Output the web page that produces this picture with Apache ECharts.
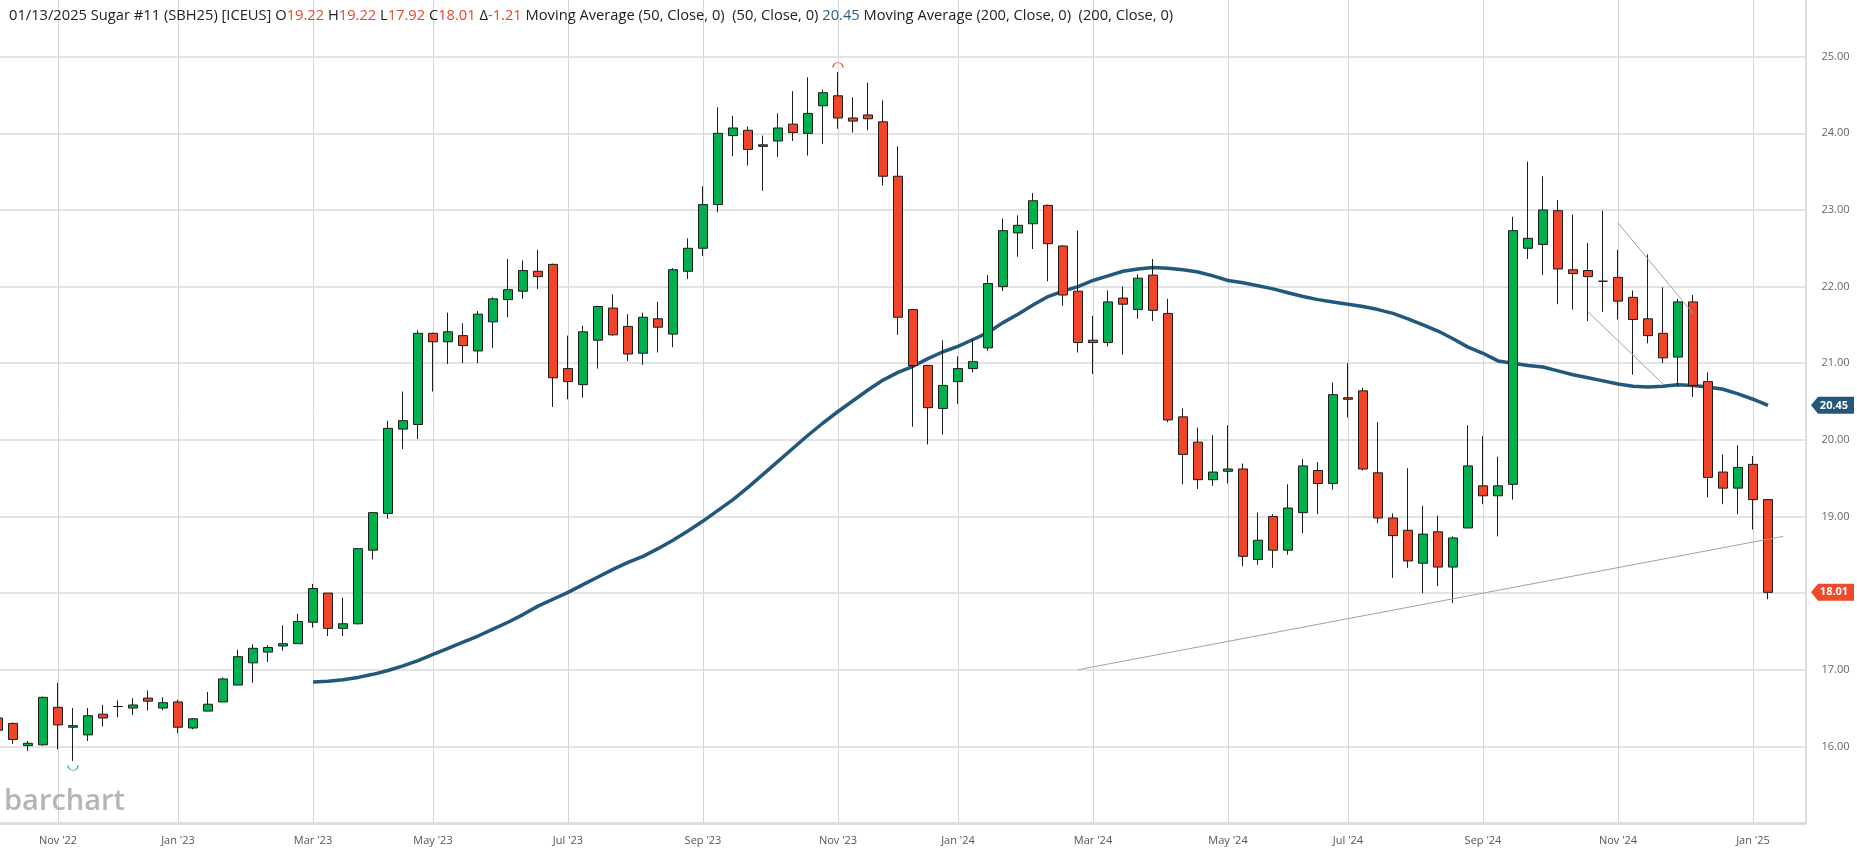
<!DOCTYPE html>
<html>
<head>
<meta charset="utf-8">
<title>Sugar #11 (SBH25) weekly</title>
<script src="https://cdn.jsdelivr.net/npm/echarts@6/dist/echarts.min.js"></script>
<style>
html, body { margin: 0; padding: 0; background: #fff; }
#main { width: 1857px; height: 850px; }
</style>
</head>
<body>
<div id="main"></div>
<script>
// weekly bars (monday of each week), last two are empty slots on the right
var weeks = [
  '2022-10-10','2022-10-17','2022-10-24','2022-10-31','2022-11-07','2022-11-14','2022-11-21','2022-11-28',
  '2022-12-05','2022-12-12','2022-12-19','2022-12-26','2023-01-02','2023-01-09','2023-01-16','2023-01-23',
  '2023-01-30','2023-02-06','2023-02-13','2023-02-20','2023-02-27','2023-03-06','2023-03-13','2023-03-20',
  '2023-03-27','2023-04-03','2023-04-10','2023-04-17','2023-04-24','2023-05-01','2023-05-08','2023-05-15',
  '2023-05-22','2023-05-29','2023-06-05','2023-06-12','2023-06-19','2023-06-26','2023-07-03','2023-07-10',
  '2023-07-17','2023-07-24','2023-07-31','2023-08-07','2023-08-14','2023-08-21','2023-08-28','2023-09-04',
  '2023-09-11','2023-09-18','2023-09-25','2023-10-02','2023-10-09','2023-10-16','2023-10-23','2023-10-30',
  '2023-11-06','2023-11-13','2023-11-20','2023-11-27','2023-12-04','2023-12-11','2023-12-18','2023-12-25',
  '2024-01-01','2024-01-08','2024-01-15','2024-01-22','2024-01-29','2024-02-05','2024-02-12','2024-02-19',
  '2024-02-26','2024-03-04','2024-03-11','2024-03-18','2024-03-25','2024-04-01','2024-04-08','2024-04-15',
  '2024-04-22','2024-04-29','2024-05-06','2024-05-13','2024-05-20','2024-05-27','2024-06-03','2024-06-10',
  '2024-06-17','2024-06-24','2024-07-01','2024-07-08','2024-07-15','2024-07-22','2024-07-29','2024-08-05',
  '2024-08-12','2024-08-19','2024-08-26','2024-09-02','2024-09-09','2024-09-16','2024-09-23','2024-09-30',
  '2024-10-07','2024-10-14','2024-10-21','2024-10-28','2024-11-04','2024-11-11','2024-11-18','2024-11-25',
  '2024-12-02','2024-12-09','2024-12-16','2024-12-23','2024-12-30','2025-01-06','2025-01-13','2025-01-20',
  '2025-01-27'
];

var opens = [
  16.37,16.30,16.01,16.02,16.51,16.25,16.15,16.42,16.52,16.50,16.63,16.50,16.58,16.24,16.46,16.58,
  16.80,17.09,17.23,17.31,17.34,17.62,18.00,17.54,17.60,18.56,19.04,20.14,20.20,21.39,21.28,21.36,
  21.16,21.54,21.83,21.94,22.20,22.29,20.93,20.72,21.30,21.72,21.48,21.13,21.58,21.38,22.20,22.50,
  23.07,23.97,24.04,23.83,23.90,24.12,24.00,24.36,24.49,24.20,24.24,24.15,23.44,21.70,20.97,20.41,
  20.76,20.93,21.20,22.00,22.70,22.82,23.06,22.53,21.94,21.30,21.27,21.85,21.70,22.15,21.65,20.30,
  19.97,19.48,19.59,19.62,18.44,19.00,18.56,19.05,19.60,19.43,20.55,20.64,19.57,18.98,18.82,18.39,
  18.80,18.34,18.85,19.40,19.27,19.42,22.50,22.55,22.99,22.22,22.21,22.07,22.12,21.86,21.58,21.39,
  21.08,21.80,20.76,19.58,19.37,19.68,19.22
];
var highs = [
  16.42,16.31,16.07,16.65,16.83,16.50,16.50,16.54,16.60,16.63,16.73,16.64,16.61,16.37,16.71,16.90,
  17.26,17.33,17.32,17.58,17.73,18.12,18.00,17.94,18.59,19.06,20.25,20.63,21.43,21.40,21.66,21.52,
  21.68,21.86,22.36,22.34,22.48,22.30,21.36,21.49,21.75,21.90,21.64,21.66,21.80,22.24,22.63,23.31,
  24.34,24.23,24.09,23.97,24.26,24.55,24.73,24.57,24.80,24.47,24.66,24.43,23.83,21.71,20.98,21.30,
  21.09,21.31,22.15,22.89,22.93,23.22,23.07,22.54,22.73,21.62,21.95,22.00,22.16,22.36,21.84,20.41,
  20.16,20.06,20.19,19.69,19.05,19.03,19.42,19.75,19.71,20.75,21.00,20.68,20.23,19.04,19.63,19.14,
  19.01,18.74,20.19,20.05,19.78,22.91,23.63,23.44,23.13,22.94,22.57,22.99,22.48,21.95,22.42,21.99,
  21.84,21.89,20.88,19.81,19.93,19.79,19.22
];
var lows = [
  16.15,16.03,15.94,16.01,15.96,15.81,16.07,16.26,16.38,16.41,16.47,16.47,16.17,16.22,16.46,16.58,
  16.80,16.83,17.10,17.25,17.34,17.55,17.44,17.44,17.59,18.44,18.97,19.88,20.01,20.63,20.99,21.00,
  21.00,21.20,21.60,21.84,21.97,20.43,20.53,20.55,20.93,21.36,21.03,20.98,21.14,21.21,22.10,22.40,
  22.97,23.70,23.58,23.25,23.69,23.90,23.71,23.86,24.06,24.01,24.04,23.32,21.37,20.17,19.94,20.07,
  20.47,20.88,21.16,21.94,22.39,22.49,22.07,21.75,21.14,20.86,21.22,21.11,21.58,21.55,20.23,19.42,
  19.36,19.40,19.43,18.35,18.37,18.33,18.50,18.78,19.03,19.35,20.29,19.60,18.91,18.20,18.33,18.00,
  18.09,17.87,18.85,19.16,18.74,19.22,22.36,22.15,21.77,21.70,21.55,21.67,21.57,20.85,21.26,21.00,
  20.70,20.56,19.25,19.16,19.03,18.83,17.92
];
var closes = [
  16.21,16.09,16.04,16.64,16.28,16.27,16.40,16.37,16.52,16.54,16.59,16.57,16.25,16.36,16.55,16.88,
  17.17,17.28,17.29,17.34,17.63,18.06,17.54,17.60,18.58,19.05,20.15,20.25,21.39,21.28,21.41,21.23,
  21.64,21.84,21.96,22.21,22.13,20.81,20.76,21.41,21.74,21.37,21.12,21.60,21.47,22.22,22.50,23.07,
  24.00,24.07,23.79,23.85,24.07,24.01,24.26,24.53,24.20,24.16,24.19,23.44,21.60,20.97,20.42,20.71,
  20.93,21.02,22.04,22.73,22.80,23.12,22.56,21.89,21.27,21.27,21.80,21.77,22.11,21.69,20.26,19.81,
  19.48,19.58,19.62,18.48,18.69,18.56,19.11,19.66,19.43,20.59,20.53,19.62,18.98,18.75,18.42,18.77,
  18.34,18.72,19.66,19.27,19.40,22.73,22.63,23.00,22.23,22.17,22.13,22.07,21.81,21.57,21.36,21.07,
  21.80,20.71,19.51,19.37,19.64,19.22,18.01
];

// Moving Average (50), it starts at Mar '23
var ma50 = [
  '-','-','-','-','-','-','-','-','-','-','-','-','-','-','-','-','-','-','-','-','-',
  16.84,16.85,16.87,16.90,16.94,16.99,17.05,17.12,17.20,17.28,17.36,17.44,17.53,17.62,17.72,17.83,
  17.92,18.01,18.11,18.21,18.31,18.40,18.48,18.58,18.69,18.81,18.94,19.08,19.22,19.38,19.55,19.72,
  19.89,20.06,20.22,20.37,20.51,20.65,20.78,20.88,20.96,21.06,21.15,21.22,21.31,21.40,21.53,21.64,
  21.76,21.87,21.94,22.00,22.08,22.14,22.20,22.23,22.25,22.24,22.22,22.19,22.14,22.08,22.05,22.01,
  21.97,21.92,21.87,21.83,21.80,21.77,21.74,21.70,21.65,21.58,21.50,21.42,21.32,21.21,21.13,21.03,
  21.00,20.97,20.95,20.90,20.85,20.81,20.77,20.73,20.70,20.69,20.70,20.72,20.71,20.69,20.66,20.60,
  20.53,20.45
];

// drawn trend lines: [start bar, start price, end bar, end price]
var trendLines = [
  [72, 17.00, 119, 18.74],
  [108, 22.83, 113, 21.65],
  [106, 21.67, 111, 20.73]
];

var monthNames = ['Jan','Feb','Mar','Apr','May','Jun','Jul','Aug','Sep','Oct','Nov','Dec'];
var yMin = 15, yMax = 25.74, yStep = 1;

var upColor = '#00b04f', downColor = '#f04528', edgeColor = '#1c1c1c';
var maColor = '#22587c';

function isMonthMark(index, value) {
  var p = value.split('-');
  return (+p[2]) <= 7 && (+p[1]) % 2 === 1;
}

var candleData = [];
for (var i = 0; i < closes.length; i++) {
  candleData.push([opens[i], closes[i], lows[i], highs[i]]);
}

// 最高价 / 最低价 位置
var hiIdx = 0, loIdx = 0;
for (var j = 0; j < highs.length; j++) {
  if (highs[j] > highs[hiIdx]) hiIdx = j;
  if (lows[j] < lows[loIdx]) loIdx = j;
}

var last = closes.length - 1;
var d = weeks[last].split('-');
var header = '{k|' + d[1] + '/' + d[2] + '/' + d[0] + ' Sugar #11 (SBH25) [ICEUS] O}{r|' + opens[last].toFixed(2) +
  '}{k| H}{r|' + highs[last].toFixed(2) + '}{k| L}{r|' + lows[last].toFixed(2) +
  '}{k| C}{r|' + closes[last].toFixed(2) + '}{k| \u0394}{r|' + (closes[last] - closes[last - 1]).toFixed(2) +
  '}{k| Moving Average (50, Close, 0)  (50, Close, 0) }{b|' + ma50[last].toFixed(2) +
  '}{k| Moving Average (200, Close, 0)  (200, Close, 0)}';

var gridColors = [];
for (var v = yMin; v <= 25; v += yStep) gridColors.push('#e3e3e3');
gridColors.push('rgba(0,0,0,0)');

var headFont = { fontSize: 14.7, fontWeight: 'normal', fontFamily: 'Open Sans' };

var chart = echarts.init(document.getElementById('main'));
chart.setOption({
  animation: false,
  backgroundColor: '#fff',
  textStyle: { fontFamily: 'Open Sans' },
  title: {
    left: 4,
    top: 3,
    text: header,
    textStyle: {
      fontWeight: 'normal',
      rich: {
        k: echarts.util.extend({ color: '#222' }, headFont),
        r: echarts.util.extend({ color: '#e8472b' }, headFont),
        b: echarts.util.extend({ color: '#2a5d80' }, headFont)
      }
    }
  },
  grid: { left: -9.5, right: 51.5, top: 0, bottom: 27, containLabel: false, outerBoundsMode: 'none' },
  xAxis: {
    type: 'category',
    data: weeks,
    boundaryGap: true,
    axisLine: { show: true, lineStyle: { color: '#dcdcdc', width: 3 } },
    axisTick: { show: false },
    axisLabel: {
      interval: isMonthMark,
      margin: 12,
      color: '#555',
      fontSize: 11,
      formatter: function (value) {
        var p = value.split('-');
        return monthNames[+p[1] - 1] + " '" + p[0].slice(2);
      }
    },
    splitLine: {
      show: true,
      interval: isMonthMark,
      alignWithLabel: true,
      lineStyle: { color: '#d6d6d6', width: 1 }
    }
  },
  yAxis: {
    type: 'value',
    position: 'right',
    min: yMin,
    max: yMax,
    interval: yStep,
    axisLine: { show: true, lineStyle: { color: '#dcdcdc', width: 2 } },
    axisTick: { show: false },
    axisLabel: {
      margin: 16,
      color: '#666',
      fontSize: 11,
      showMinLabel: false,
      showMaxLabel: false,
      formatter: function (val) { return val.toFixed(2); }
    },
    splitLine: { show: true, lineStyle: { color: gridColors, width: 2 } }
  },
  series: [
    {
      name: 'Moving Average (50)',
      type: 'line',
      data: ma50,
      z: 1,
      showSymbol: false,
      symbol: 'none',
      lineStyle: { color: maColor, width: 3.5 },
      silent: true
    },
    {
      name: 'SBH25',
      type: 'candlestick',
      data: candleData,
      z: 3,
      barWidth: 10,
      itemStyle: {
        color: upColor,
        color0: downColor,
        borderColor: edgeColor,
        borderColor0: edgeColor,
        borderWidth: 1
      },
      markLine: {
        silent: true,
        symbol: 'none',
        label: { show: false },
        lineStyle: { color: '#a2a2a2', width: 1, type: 'solid' },
        data: trendLines.map(function (t) {
          return [{ coord: [weeks[t[0]], t[1]] }, { coord: [weeks[t[2]], t[3]] }];
        })
      },
      markPoint: {
        silent: true,
        label: { show: false },
        data: [
          {
            coord: [weeks[hiIdx], highs[hiIdx]],
            symbol: 'path://M0 10 A10 10 0 0 1 20 10',
            symbolSize: [10, 5],
            symbolOffset: [0, -7],
            itemStyle: { color: 'rgba(0,0,0,0)', borderColor: '#f0553a', borderWidth: 1 }
          },
          {
            coord: [weeks[loIdx], lows[loIdx]],
            symbol: 'path://M0 0 A10 10 0 0 0 20 0',
            symbolSize: [10, 5],
            symbolOffset: [0, 7],
            itemStyle: { color: 'rgba(0,0,0,0)', borderColor: '#2cc06a', borderWidth: 1 }
          }
        ]
      }
    }
  ]
});

// 右侧价格标签
function priceTag(value, color) {
  var y = chart.convertToPixel({ yAxisIndex: 0 }, value);
  var x0 = 1811;
  return [
    {
      type: 'polygon',
      z: 100,
      shape: { points: [[x0, y], [x0 + 7, y - 8.5], [1854, y - 8.5], [1854, y + 8.5], [x0 + 7, y + 8.5]] },
      style: { fill: color }
    },
    {
      type: 'text',
      z: 101,
      x: 1834,
      y: y,
      style: {
        text: value.toFixed(2),
        fill: '#fff',
        font: 'bold 11px "Open Sans"',
        align: 'center',
        verticalAlign: 'middle'
      }
    }
  ];
}

chart.setOption({
  graphic: [
    {
      type: 'text',
      left: 4,
      top: 787,
      style: { text: 'barchart', fill: '#b5b5b5', font: '600 29px "Open Sans"' }
    }
  ].concat(priceTag(ma50[last], '#23587a'), priceTag(closes[last], '#ee4a2c'))
});
</script>
</body>
</html>
